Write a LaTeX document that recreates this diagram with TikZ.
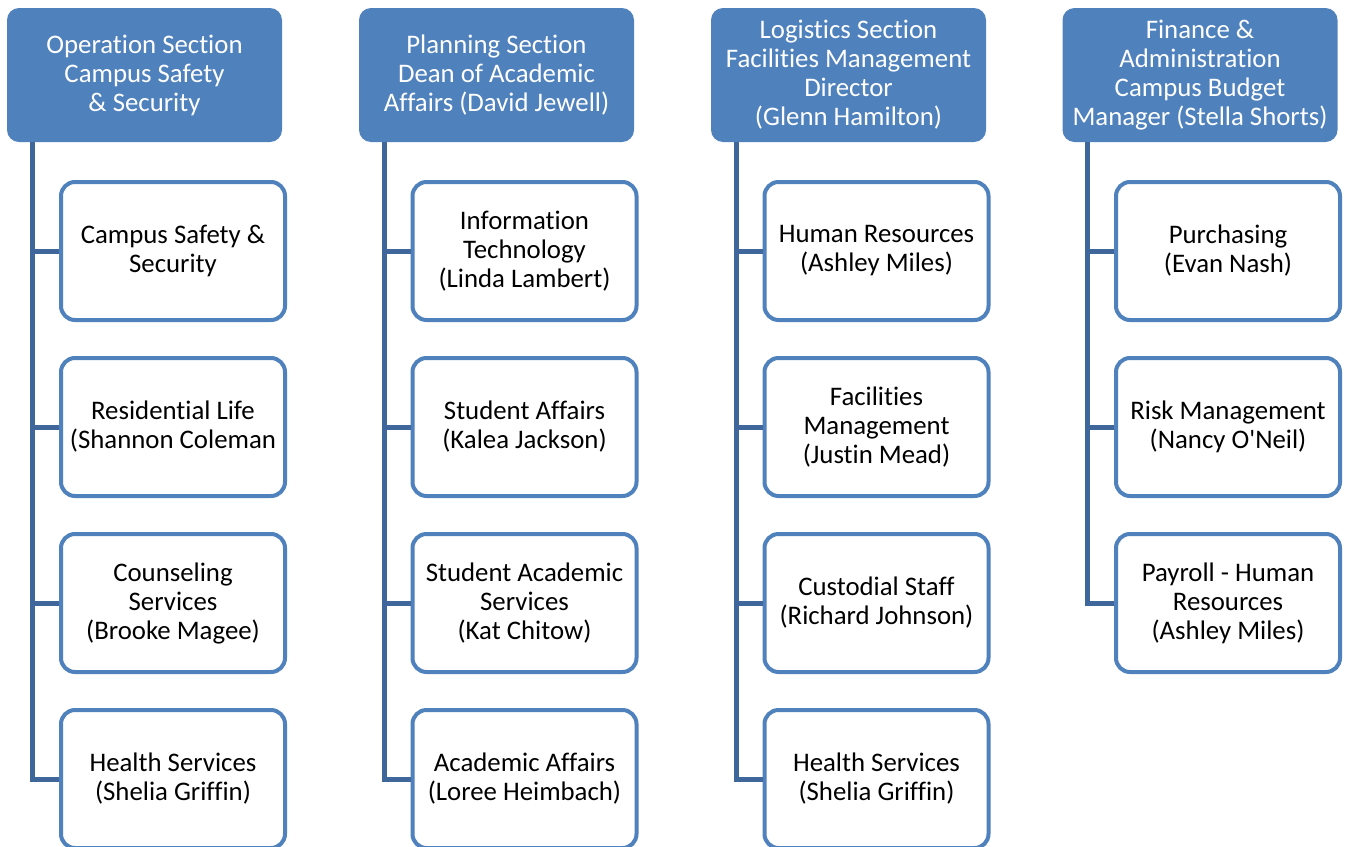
\documentclass[tikz,border=0pt]{standalone}
\usepackage{fontspec}
\setmainfont[Ligatures=NoCommon]{Carlito}
\usetikzlibrary{calc}
\definecolor{headbg}{HTML}{4F81BD}
\definecolor{frame}{HTML}{4F81BD}
\definecolor{wire}{HTML}{3F679B}
\tikzset{
  head/.style={fill=headbg, rounded corners=6pt, text=white, align=center,
    minimum width=137.5pt, minimum height=67pt, inner sep=0pt,
    font=\fontsize{13.4}{14.5}\selectfont},
  unit/.style={draw=frame, fill=white, line width=2pt, rounded corners=7pt,
    align=center, minimum width=112pt, minimum height=69pt, inner sep=0pt,
    font=\fontsize{13.4}{14.5}\selectfont},
  link/.style={draw=wire, line width=2.5pt},
}
\begin{document}
\begin{tikzpicture}[x=0.5pt,y=-0.5pt]
  \useasboundingbox (0,0) rectangle (1351,847);

  % section heads
  \node[head] (h1) at (144.5,75) {Operation Section\\Campus Safety\\\& Security};
  \node[head] (h2) at (496.5,75) {Planning Section\\Dean of Academic\\Affairs (David Jewell)};
  \node[head] (h3) at (848.5,75) {Logistics Section\\Facilities Management\\Director\\(Glenn Hamilton)};
  \node[head] (h4) at (1200,75) {Finance \&\\Administration\\Campus Budget\\Manager (Stella Shorts)};

  % trunk tops
  \coordinate (t1) at ($(h1.south west)+(26,0)$);
  \coordinate (t2) at ($(h2.south west)+(26,0)$);
  \coordinate (t3) at ($(h3.south west)+(26,0)$);
  \coordinate (t4) at ($(h4.south west)+(25,0)$);

  % units
  \node[unit] (u11) at (173,251) {Campus Safety \&\\Security};
  \node[unit] (u12) at (173,427) {Residential Life\\(Shannon Coleman};
  \node[unit] (u13) at (173,603) {Counseling\\Services\\(Brooke Magee)};
  \node[unit] (u14) at (173,779) {Health Services\\(Shelia Griffin)};

  \node[unit] (u21) at (524.5,251) {Information\\Technology\\(Linda Lambert)};
  \node[unit] (u22) at (524.5,427) {Student Affairs\\(Kalea Jackson)};
  \node[unit] (u23) at (524.5,603) {Student Academic\\Services\\(Kat Chitow)};
  \node[unit] (u24) at (524.5,779) {Academic Affairs\\(Loree Heimbach)};

  \node[unit] (u31) at (876.5,251) {Human Resources\\(Ashley Miles)};
  \node[unit] (u32) at (876.5,427) {Facilities\\Management\\(Justin Mead)};
  \node[unit] (u33) at (876.5,603) {Custodial Staff\\(Richard Johnson)};
  \node[unit] (u34) at (876.5,779) {Health Services\\(Shelia Griffin)};

  \node[unit] (u41) at (1228,251) {Purchasing\\(Evan Nash)};
  \node[unit] (u42) at (1228,427) {Risk Management\\(Nancy O\textquotesingle Neil)};
  \node[unit] (u43) at (1228,603) {Payroll - Human\\Resources\\(Ashley Miles)};

  % connectors
  \foreach \c/\n in {1/4,2/4,3/4,4/3}{
    \draw[link] (t\c) |- (u\c\n.west);
    \foreach \k in {1,...,\n}
      \draw[link] (t\c |- u\c\k.west) -- (u\c\k.west);
  }
\end{tikzpicture}
\end{document}
